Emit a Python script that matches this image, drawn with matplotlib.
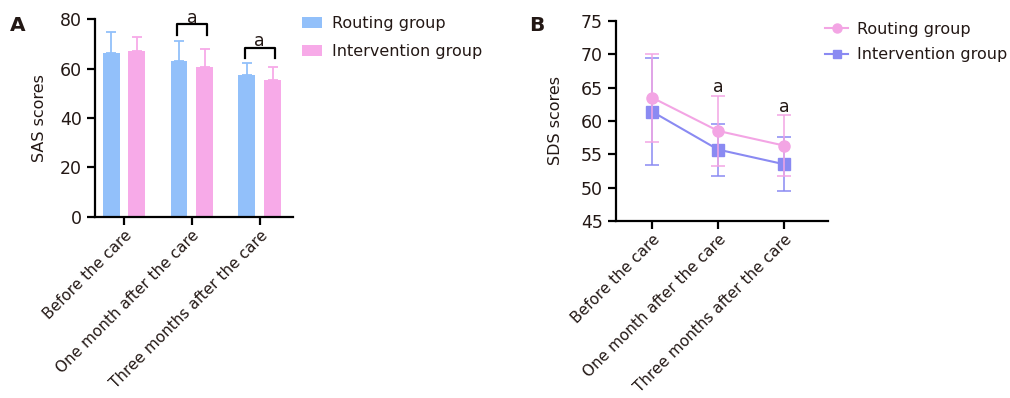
import numpy as np
import matplotlib
matplotlib.use('Agg')
import matplotlib.pyplot as plt
from matplotlib.lines import Line2D

plt.rcParams['font.family'] = ['DejaVu Sans']

# ---- data ----
stages = ['Before the care', 'One month after the care', 'Three months after the care']
groups = ['Routing group', 'Intervention group']

sas_routing = [66.3, 63.2, 57.2]
sas_routing_sd = [8.3, 7.8, 4.9]
sas_interv = [67.1, 60.5, 55.5]
sas_interv_sd = [5.8, 7.4, 5.2]

sds_routing = [63.5, 58.5, 56.3]
sds_routing_sd = [6.6, 5.3, 4.6]
sds_interv = [61.4, 55.7, 53.5]
sds_interv_sd = [8.0, 3.9, 4.05]

blue = '#92C0FA'
pink = '#F7AAE8'
line_pink = '#F3A5E4'
line_blue = '#8A8AF2'
dark = '#231815'

fig = plt.figure(figsize=(10.1, 3.98), dpi=100)

# ---------------- Panel A ----------------
axA = fig.add_axes([0.094, 0.455, 0.196, 0.497])
x = np.arange(len(stages))
w = 0.25
off = 0.19
axA.bar(x - off, sas_routing, w, color=blue, label=groups[0], zorder=2)
axA.bar(x + off, sas_interv, w, color=pink, label=groups[1], zorder=2)
axA.errorbar(x - off, sas_routing, yerr=[np.zeros(3), sas_routing_sd], fmt='none',
             ecolor=blue, elinewidth=1.3, capsize=3.5, capthick=1.3, zorder=1)
axA.errorbar(x + off, sas_interv, yerr=[np.zeros(3), sas_interv_sd], fmt='none',
             ecolor=pink, elinewidth=1.3, capsize=3.5, capthick=1.3, zorder=1)

# significance brackets
for xi, top, low in [(1, 77.9, 73.5), (2, 68.4, 64.1)]:
    axA.plot([xi - 0.22, xi - 0.22, xi + 0.23, xi + 0.23], [low, top, top, low],
             color='black', lw=1.6, clip_on=False)
    axA.text(xi, top + 0.6, 'a', ha='center', va='baseline', fontsize=12.5, color=dark,
             clip_on=False)

axA.set_xlim(-0.43, 2.49)
axA.set_ylim(0, 80)
axA.set_yticks([0, 20, 40, 60, 80])
axA.set_xticks(x)
axA.set_xticklabels(stages, rotation=45, ha='right', rotation_mode='anchor', fontsize=11)
axA.set_ylabel('SAS scores', fontsize=11.5, color=dark, labelpad=9)
axA.tick_params(axis='y', labelsize=12.5, width=1.6, length=6, colors='black', labelcolor=dark)
axA.tick_params(axis='x', width=1.6, length=6, colors='black', labelcolor=dark, pad=2)
for s in ['top', 'right']:
    axA.spines[s].set_visible(False)
for s in ['left', 'bottom']:
    axA.spines[s].set_linewidth(1.6)
axA.legend(loc='upper left', bbox_to_anchor=(1.045, 1.015), frameon=False, fontsize=11.5,
           borderpad=0, borderaxespad=0, handlelength=1.25, handleheight=0.7,
           handletextpad=0.62, labelcolor=dark, labelspacing=0.8)

fig.text(0.010, 0.937, 'A', fontsize=14.5, fontweight='bold', color=dark, va='center')

# ---------------- Panel B ----------------
axB = fig.add_axes([0.610, 0.445, 0.210, 0.5025])
axB.errorbar(x, sds_routing, yerr=sds_routing_sd, color=line_pink, marker='o', ms=8,
             lw=1.5, elinewidth=1.1, capsize=5, capthick=1.1, zorder=3)
axB.errorbar(x, sds_interv, yerr=sds_interv_sd, color=line_blue, marker='s', ms=8,
             lw=1.5, elinewidth=1.1, capsize=5, capthick=1.1, zorder=2)
axB.text(1, 64.35, 'a', ha='center', va='baseline', fontsize=12.5, color=dark)
axB.text(2, 61.35, 'a', ha='center', va='baseline', fontsize=12.5, color=dark)

axB.set_xlim(-0.545, 2.67)
axB.set_ylim(45, 75)
axB.set_yticks([45, 50, 55, 60, 65, 70, 75])
axB.set_xticks(x)
axB.set_xticklabels(stages, rotation=45, ha='right', rotation_mode='anchor', fontsize=11)
axB.set_ylabel('SDS scores', fontsize=11.5, color=dark, labelpad=13)
axB.tick_params(axis='y', labelsize=12.5, width=1.6, length=6, colors='black', labelcolor=dark)
axB.tick_params(axis='x', width=1.6, length=6, colors='black', labelcolor=dark, pad=2)
for s in ['top', 'right']:
    axB.spines[s].set_visible(False)
for s in ['left', 'bottom']:
    axB.spines[s].set_linewidth(1.6)
handles = [Line2D([], [], color=line_pink, marker='o', ms=6.5, lw=1.5),
           Line2D([], [], color=line_blue, marker='s', ms=6, lw=1.5)]
axB.legend(handles, groups, loc='upper left', bbox_to_anchor=(0.986, 0.995), frameon=False,
           fontsize=11.5, borderpad=0, borderaxespad=0, handlelength=1.44, handletextpad=0.56,
           labelcolor=dark, labelspacing=0.65)

fig.text(0.524, 0.937, 'B', fontsize=14.5, fontweight='bold', color=dark, va='center')

fig.savefig('out.png', dpi=100)
